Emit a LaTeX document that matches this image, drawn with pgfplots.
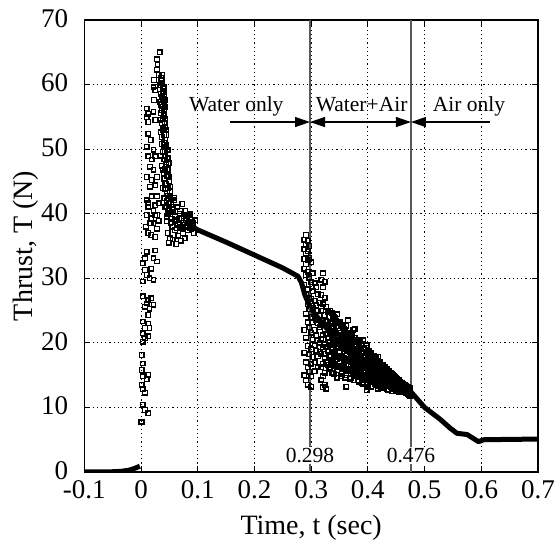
\documentclass[border=0pt]{standalone}
\usepackage{pgfplots}
\pgfplotsset{compat=1.18}
\usepackage{fontspec}
\setmainfont{Liberation Serif}
\usetikzlibrary{arrows.meta}

\pgfplotstableread{
t T
-0.100 0.0
-0.060 0.0
-0.035 0.1
-0.020 0.3
-0.010 0.6
-0.002 0.9
}\prestart

\pgfplotstableread{
t T
0.080 38.6
0.100 37.5
0.150 35.6
0.200 33.6
0.250 31.6
0.277 30.3
0.283 29.3
0.289 27.4
0.295 26.2
0.300 25.2
0.320 23.0
0.340 21.0
0.360 19.4
0.380 18.0
0.400 16.6
0.420 15.4
0.440 14.4
0.460 13.4
0.476 12.4
0.490 11.0
0.500 10.0
0.527 8.2
0.545 6.8
0.557 6.0
0.575 5.8
0.595 4.7
0.605 5.0
0.650 5.05
0.700 5.1
}\mainline

\pgfplotstableread{
t T
0.000 7.7
0.001 7.8
0.003 10.4
0.007 9.6
0.013 9.1
0.001 13.5
0.003 12.8
0.007 12.3
0.001 15.8
0.003 14.8
0.013 15.0
0.010 14.4
0.001 18.1
0.003 16.8
0.003 20.2
0.007 20.7
0.013 21.0
0.003 21.5
0.007 22.3
0.015 22.3
0.003 23.3
0.013 23.0
0.007 25.6
0.015 25.3
0.022 25.9
0.013 24.3
0.003 27.2
0.013 26.6
0.018 26.9
0.010 26.1
0.007 31.3
0.018 31.5
0.010 30.5
0.015 30.0
0.022 29.8
0.003 29.5
0.010 34.1
0.025 34.3
0.022 33.1
0.028 32.6
0.007 33.1
0.003 32.3
0.013 41.6
0.025 41.3
0.031 41.6
0.010 39.8
0.018 39.3
0.028 39.8
0.022 38.5
0.028 37.7
0.013 37.0
0.018 36.7
0.025 36.4
0.015 38.5
0.031 38.9
0.010 56.3
0.013 55.5
0.010 55.0
0.013 54.2
0.023 57.6
0.022 55.8
0.025 54.5
0.013 52.4
0.017 51.4
0.010 50.4
0.022 49.9
0.013 48.9
0.019 48.4
0.025 48.9
0.016 47.3
0.022 46.8
0.010 45.7
0.019 45.2
0.028 45.7
0.016 44.2
0.025 44.4
0.010 42.1
0.019 42.7
0.028 42.7
0.013 41.1
0.022 40.4
0.010 39.8
0.025 39.8
0.009 38.0
0.017 38.5
0.033 65.0
0.028 63.9
0.029 63.1
0.028 62.3
0.031 61.5
0.037 61.5
0.023 60.7
0.022 59.6
0.025 59.1
0.034 59.9
0.040 59.6
0.040 58.9
0.037 58.1
0.040 57.3
0.034 57.3
0.043 56.5
0.037 56.0
0.040 55.2
0.034 54.5
0.043 53.4
0.040 52.9
0.037 51.9
0.043 51.4
0.040 50.4
0.046 49.9
0.043 48.9
0.049 47.8
0.046 46.8
0.040 46.3
0.049 45.7
0.043 44.7
0.052 44.2
0.046 43.2
0.052 42.7
0.049 41.6
0.058 42.1
0.055 40.6
0.064 41.1
0.069 40.4
0.060 39.6
0.075 39.6
0.084 39.8
0.090 38.8
0.069 38.3
0.052 38.5
0.036 60.2
0.038 59.0
0.039 57.8
0.036 56.9
0.041 56.2
0.038 54.8
0.042 54.0
0.039 53.2
0.044 52.2
0.041 51.0
0.045 50.6
0.042 49.6
0.047 48.6
0.044 47.6
0.048 46.9
0.045 45.8
0.050 45.0
0.047 44.0
0.051 43.4
0.048 42.4
0.053 41.8
0.050 40.8
0.045 42.0
0.048 40.5
0.046 38.8
0.047 37.0
0.049 35.5
0.051 36.2
0.052 39.5
0.053 41.5
0.055 38.0
0.056 36.0
0.057 40.2
0.058 42.5
0.060 37.5
0.061 39.0
0.062 35.3
0.064 41.0
0.065 38.4
0.066 36.6
0.068 40.0
0.069 37.8
0.070 35.8
0.072 39.3
0.073 41.5
0.074 37.0
0.076 38.6
0.077 36.2
0.078 40.5
0.080 38.0
0.081 39.6
0.083 37.4
0.085 38.8
0.087 40.0
0.089 37.6
0.091 38.5
0.093 37.0
0.095 39.0
0.035 61.0
0.035 58.6
0.035 55.6
0.035 52.6
0.035 49.0
0.037 60.6
0.037 57.0
0.037 54.0
0.037 50.8
0.037 47.4
0.039 59.4
0.039 56.6
0.039 53.0
0.039 49.6
0.039 46.8
0.039 44.0
0.041 58.2
0.041 55.4
0.041 52.2
0.041 48.4
0.041 45.4
0.041 42.4
0.043 57.6
0.043 54.6
0.043 50.4
0.043 47.0
0.043 43.8
0.043 41.0
0.045 53.0
0.045 48.0
0.045 44.6
0.045 41.2
0.045 39.6
0.047 49.8
0.047 46.0
0.047 42.8
0.047 40.0
0.054 39.2
0.059 38.8
0.063 37.8
0.067 39.2
0.071 38.0
0.075 37.6
0.079 39.0
0.082 38.2
0.086 37.8
}\spike

\pgfplotstableread{
t T
0.288 36.0
0.288 34.5
0.288 33.0
0.288 31.5
0.288 29.0
0.288 22.0
0.288 18.5
0.288 15.0
0.291 36.7
0.291 35.2
0.291 33.8
0.291 32.2
0.291 30.5
0.291 27.5
0.291 24.5
0.291 20.8
0.291 17.0
0.291 14.2
0.294 35.8
0.294 34.2
0.294 32.8
0.294 31.0
0.294 28.3
0.294 26.0
0.294 23.2
0.294 19.5
0.294 16.2
0.294 13.5
0.297 35.0
0.297 33.2
0.297 30.0
0.297 27.0
0.297 25.2
0.297 22.4
0.297 18.2
0.297 15.5
0.300 32.5
0.300 29.4
0.300 26.8
0.300 24.0
0.300 21.6
0.300 19.0
0.300 16.8
0.300 14.8
0.300 13.2
0.303 30.8
0.303 28.0
0.303 25.4
0.303 23.2
0.303 20.5
0.303 17.8
0.306 29.2
0.306 26.5
0.306 24.2
0.306 22.0
0.306 19.6
0.306 17.0
0.306 15.6
0.309 28.6
0.309 25.8
0.309 23.6
0.309 21.2
0.309 18.8
0.312 27.5
0.312 25.0
0.312 23.0
0.312 20.4
0.312 17.9
0.312 16.2
0.315 26.2
0.315 24.2
0.315 22.4
0.315 20.0
0.315 18.6
0.318 29.8
0.318 27.4
0.318 25.0
0.318 22.8
0.318 20.6
0.318 18.3
0.318 16.2
0.318 14.3
0.321 30.8
0.321 28.6
0.321 26.0
0.321 23.6
0.321 21.2
0.321 19.0
0.321 16.8
0.321 14.8
0.321 13.1
0.324 29.5
0.324 27.0
0.324 24.3
0.324 22.0
0.324 19.8
0.324 17.6
0.324 15.4
0.324 13.5
0.327 25.6
0.327 23.4
0.327 21.4
0.327 19.3
0.327 17.0
0.327 12.9
0.330 24.8
0.330 22.8
0.330 20.8
0.330 18.8
0.330 16.6
0.334 25.0
0.334 23.0
0.334 21.4
0.334 19.6
0.334 17.8
0.334 16.0
0.338 24.2
0.338 22.4
0.338 20.6
0.338 18.9
0.338 17.2
0.338 15.4
0.342 23.8
0.342 21.8
0.342 20.2
0.342 18.4
0.342 16.8
0.346 24.4
0.346 22.6
0.346 21.0
0.346 19.2
0.346 17.5
0.346 15.8
0.346 14.6
0.350 23.2
0.350 21.6
0.350 20.0
0.350 18.6
0.350 17.0
0.354 22.8
0.354 21.2
0.354 19.6
0.354 18.0
0.354 16.4
0.354 15.2
0.358 22.2
0.358 20.6
0.358 19.2
0.358 17.6
0.358 16.2
0.362 22.6
0.362 21.0
0.362 19.5
0.362 18.0
0.362 16.6
0.362 15.0
0.362 13.2
0.365 23.5
0.366 21.6
0.366 20.2
0.366 18.8
0.366 17.4
0.366 16.0
0.370 21.2
0.370 19.8
0.370 18.4
0.370 17.2
0.370 15.8
0.370 14.6
0.374 22.0
0.374 20.4
0.374 19.0
0.374 17.7
0.374 16.4
0.374 15.2
0.377 22.2
0.378 20.8
0.378 19.4
0.378 18.2
0.378 16.9
0.378 15.6
0.382 20.2
0.382 19.0
0.382 17.8
0.382 16.6
0.382 15.4
0.382 14.2
0.386 20.5
0.386 19.2
0.386 17.9
0.386 16.6
0.386 15.3
0.390 19.8
0.390 18.6
0.390 17.4
0.390 16.2
0.390 15.0
0.390 13.8
0.392 20.4
0.394 19.2
0.394 18.0
0.394 16.9
0.394 15.8
0.394 14.6
0.398 19.6
0.398 18.5
0.398 17.3
0.398 16.1
0.398 14.9
0.398 13.7
0.398 12.7
0.402 18.8
0.402 17.7
0.402 16.6
0.402 15.5
0.402 14.4
0.406 18.4
0.406 17.3
0.406 16.3
0.406 15.2
0.406 14.1
0.406 13.2
0.410 18.0
0.410 17.0
0.410 16.0
0.410 15.0
0.410 14.0
0.414 17.6
0.414 16.6
0.414 15.7
0.414 14.7
0.414 13.7
0.418 17.8
0.418 16.8
0.418 15.8
0.418 14.9
0.418 13.9
0.418 12.9
0.422 17.0
0.422 16.1
0.422 15.2
0.422 14.3
0.422 13.4
0.426 16.6
0.426 15.8
0.426 14.9
0.426 14.0
0.426 13.1
0.430 16.2
0.430 15.4
0.430 14.6
0.430 13.8
0.434 15.9
0.434 15.1
0.434 14.3
0.434 13.5
0.434 12.8
0.438 15.6
0.438 14.8
0.438 14.1
0.438 13.3
0.442 15.2
0.442 14.5
0.442 13.8
0.442 13.1
0.442 12.5
0.446 14.9
0.446 14.2
0.446 13.6
0.446 12.9
0.450 14.6
0.450 14.0
0.450 13.4
0.450 12.8
0.455 14.2
0.455 13.6
0.455 13.0
0.455 12.4
0.460 13.8
0.460 13.2
0.460 12.7
0.465 13.5
0.465 12.9
0.465 12.4
0.470 13.2
0.470 12.6
0.470 12.1
0.475 13.0
0.475 12.3
0.475 11.8
0.332 24.0
0.332 22.0
0.332 20.0
0.332 18.0
0.332 16.2
0.336 24.6
0.336 22.6
0.336 20.8
0.336 19.0
0.336 17.0
0.336 15.4
0.340 24.0
0.340 22.2
0.340 20.4
0.340 18.6
0.340 16.8
0.340 15.2
0.344 23.4
0.344 21.6
0.344 19.8
0.344 18.0
0.344 16.4
0.348 23.0
0.348 21.2
0.348 19.5
0.348 17.8
0.348 16.2
0.352 22.6
0.352 21.0
0.352 19.4
0.352 17.8
0.352 16.2
0.352 14.8
0.356 22.4
0.356 20.8
0.356 19.2
0.356 17.6
0.356 16.0
0.360 22.0
0.360 20.5
0.360 19.0
0.360 17.5
0.360 16.0
0.360 14.6
0.364 21.6
0.364 20.2
0.364 18.7
0.364 17.2
0.364 15.8
0.368 21.4
0.368 20.0
0.368 18.6
0.368 17.2
0.368 15.8
0.368 14.4
0.372 21.0
0.372 19.6
0.372 18.3
0.372 17.0
0.372 15.6
0.376 20.8
0.376 19.4
0.376 18.1
0.376 16.8
0.376 15.5
0.376 14.2
0.380 20.4
0.380 19.1
0.380 17.8
0.380 16.6
0.380 15.3
0.384 20.0
0.384 18.8
0.384 17.6
0.384 16.4
0.384 15.2
0.384 14.0
0.388 19.6
0.388 18.4
0.388 17.2
0.388 16.0
0.388 14.8
0.392 19.2
0.392 18.0
0.392 16.9
0.392 15.8
0.392 14.6
0.392 13.6
0.396 18.9
0.396 17.8
0.396 16.7
0.396 15.6
0.396 14.5
0.400 18.6
0.400 17.5
0.400 16.4
0.400 15.3
0.400 14.2
0.400 13.2
0.404 18.2
0.404 17.2
0.404 16.2
0.404 15.1
0.404 14.0
0.408 17.9
0.408 16.9
0.408 15.9
0.408 14.9
0.408 13.9
0.412 17.6
0.412 16.6
0.412 15.6
0.412 14.6
0.412 13.6
0.416 17.2
0.416 16.3
0.416 15.4
0.416 14.5
0.416 13.5
0.420 16.9
0.420 16.0
0.420 15.1
0.420 14.2
0.420 13.3
0.424 16.6
0.424 15.7
0.424 14.9
0.424 14.0
0.424 13.2
0.428 16.2
0.428 15.4
0.428 14.6
0.428 13.8
0.428 13.0
0.432 15.9
0.432 15.1
0.432 14.3
0.432 13.5
0.436 15.6
0.436 14.8
0.436 14.0
0.436 13.3
0.436 12.7
0.440 15.3
0.440 14.6
0.440 13.9
0.440 13.2
0.444 15.0
0.444 14.3
0.444 13.6
0.444 12.9
0.448 14.7
0.448 14.1
0.448 13.4
0.448 12.8
0.452 14.4
0.452 13.8
0.452 13.2
0.452 12.6
0.457 14.0
0.457 13.4
0.457 12.8
0.462 13.7
0.462 13.1
0.462 12.5
0.467 13.3
0.467 12.8
0.467 12.2
0.472 13.0
0.472 12.4
0.472 12.0
}\band

\begin{document}
\begin{tikzpicture}
\begin{axis}[
  at={(0pt,0pt)}, anchor=south west,
  width=453.7pt, height=452pt, scale only axis,
  xmin=-0.1, xmax=0.7, ymin=0, ymax=70,
  xtick={-0.1,0,0.1,0.2,0.3,0.4,0.5,0.6,0.7},
  xticklabels={-0.1,0,0.1,0.2,0.3,0.4,0.5,0.6,0.7},
  ytick={0,10,20,30,40,50,60,70},
  yticklabels={0,10,20,30,40,50,60,70},
  grid=major,
  major grid style={black, line width=0.9pt, dash pattern=on 1.2pt off 3pt},
  axis line style={black, line width=1.3pt},
  tick style={black, line width=1pt},
  major tick length=6pt,
  tick align=inside,
  xticklabel style={font=\fontsize{27}{30}\selectfont, anchor=base, inner sep=0pt, yshift=-26.5pt},
  yticklabel style={font=\fontsize{27}{30}\selectfont, anchor=east, inner sep=0pt, xshift=-16pt, yshift=1.5pt},
  clip=true,
]
\addplot[black, line width=5pt, line join=round] table {\prestart};
\addplot[black, line width=5pt, line join=round, line cap=round] table {\mainline};
\addplot[only marks, mark=square, mark size=2.3pt, black, mark options={line width=1.3pt}] table {\spike};
\addplot[only marks, mark=square, mark size=2.3pt, black, mark options={line width=1.4pt}] table {\band};

\draw[black!65, line width=1.2pt] (axis cs:0.298,0) -- (axis cs:0.298,70);
\draw[black!65, line width=1.2pt] (axis cs:0.476,0) -- (axis cs:0.476,70);
\node[fill=white, inner sep=1.5pt, anchor=base, font=\fontsize{21.5}{24}\selectfont] at (axis cs:0.298,1.5) {0.298};
\node[fill=white, inner sep=1.5pt, anchor=base, font=\fontsize{21.5}{24}\selectfont] at (axis cs:0.476,1.5) {0.476};

\node[anchor=base, font=\fontsize{21.5}{24}\selectfont] at (axis cs:0.168,55.8) {Water only};
\node[anchor=base, font=\fontsize{21.5}{24}\selectfont] at (axis cs:0.389,55.8) {Water+Air};
\node[anchor=base, font=\fontsize{21.5}{24}\selectfont] at (axis cs:0.5785,55.8) {Air only};

\draw[line width=1.2pt, -{Triangle[length=15pt,width=10pt]}] (axis cs:0.157,54.2) -- (axis cs:0.298,54.2);
\draw[line width=1.2pt, {Triangle[length=15pt,width=10pt]}-{Triangle[length=15pt,width=10pt]}] (axis cs:0.298,54.2) -- (axis cs:0.476,54.2);
\draw[line width=1.2pt, -{Triangle[length=15pt,width=10pt]}] (axis cs:0.615,54.2) -- (axis cs:0.476,54.2);
\end{axis}
\node[rotate=90, anchor=base, font=\fontsize{28}{32}\selectfont] at (-51.3pt,226pt) {Thrust, T (N)};
\node[anchor=base, font=\fontsize{28}{32}\selectfont] at (226.85pt,-63pt) {Time, t (sec)};
\pgfresetboundingbox
\path[use as bounding box] (-84.3pt,-72pt) rectangle (470.7pt,472pt);
\end{tikzpicture}
\end{document}
